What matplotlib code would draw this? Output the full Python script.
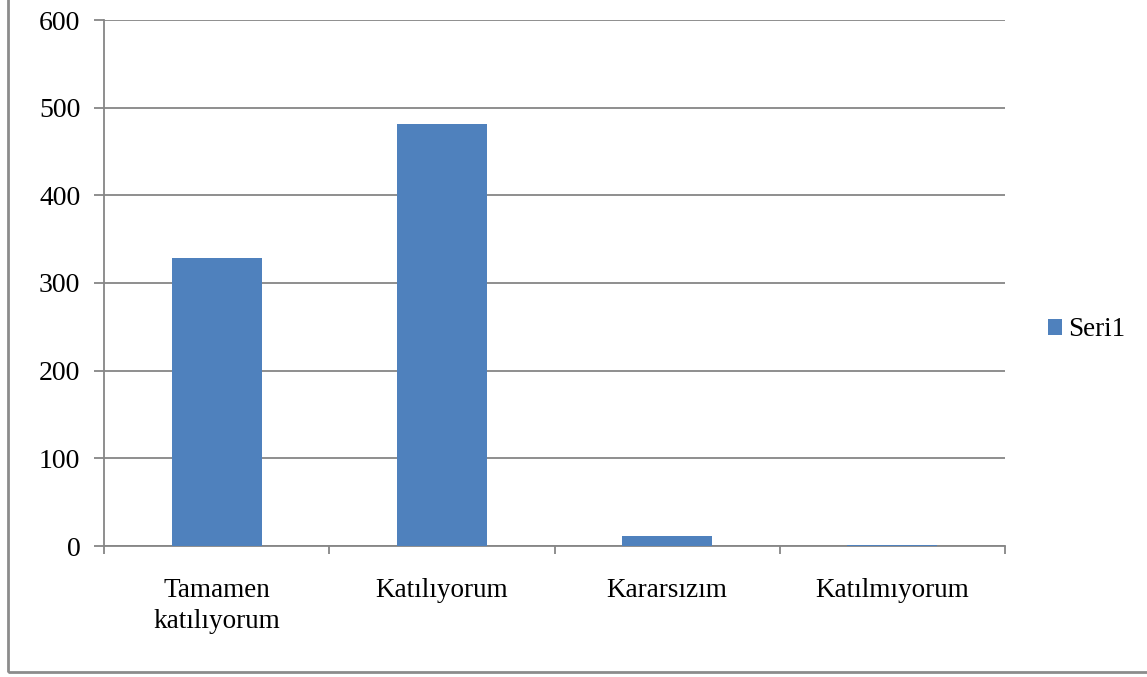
import numpy as np
import matplotlib.pyplot as plt
from matplotlib.patches import Rectangle, Patch

categories = ['Tamamen\nkatılıyorum', 'Katılıyorum', 'Kararsızım', 'Katılmıyorum']
values = [328, 481, 11, 1]
yticks = [0, 100, 200, 300, 400, 500, 600]

bar_color = '#4f81bd'
grid_color = '#868686'

plt.rcParams['font.family'] = ['Liberation Serif', 'DejaVu Serif']

fig = plt.figure(figsize=(11.47, 6.77), dpi=100)
ax = fig.add_axes([104 / 1147, 1 - 546 / 677, 901 / 1147, 526 / 677])

# outer chart frame
fig.patches.append(Rectangle((8 / 1147, 5 / 677), 1.2, 1.2, transform=fig.transFigure,
                             fill=False, edgecolor='#8c8c8c', linewidth=2))

x = np.arange(len(categories))
ax.bar(x, values, width=0.4, color=bar_color, zorder=3)

ax.set_xlim(-0.5, len(categories) - 0.5)
ax.set_ylim(0, 600)
ax.set_yticks(yticks)
ax.set_yticklabels([str(v) for v in yticks], fontsize=20)
ax.yaxis.grid(True, color=grid_color, linewidth=1.3, zorder=0)

ax.set_xticks(x)
ax.set_xticklabels(categories, fontsize=19.5, linespacing=1.3)
ax.set_xticks(np.arange(-0.5, len(categories)), minor=True)
ax.tick_params(axis='x', which='major', length=0, pad=23)
ax.tick_params(axis='x', which='minor', length=6, width=1.3, color=grid_color)
ax.tick_params(axis='y', length=7, width=1.3, color=grid_color, pad=10)

for side in ['top', 'right']:
    ax.spines[side].set_visible(False)
for side in ['left', 'bottom']:
    ax.spines[side].set_color(grid_color)
    ax.spines[side].set_linewidth(1.3)

handle = Patch(facecolor=bar_color, edgecolor='none')
fig.legend([handle], ['Seri1'], loc='center left', bbox_to_anchor=(1034 / 1147, 1 - 330 / 677),
           frameon=False, fontsize=19.5, handlelength=0.55, handleheight=0.55, handletextpad=0.2,
           borderpad=0)

fig.savefig('out.png', dpi=100)
